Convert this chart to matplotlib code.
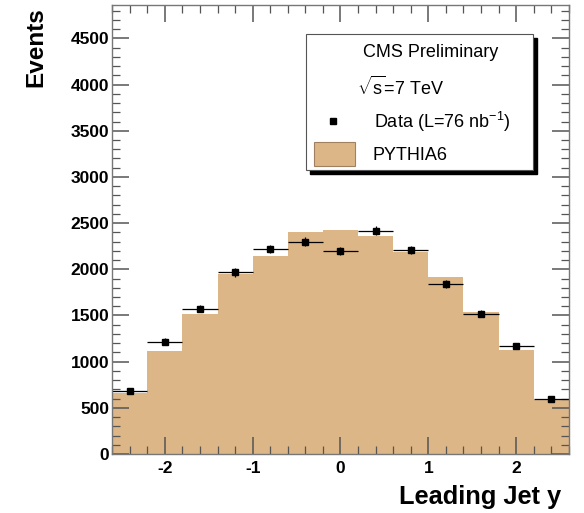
import numpy as np
import matplotlib
matplotlib.use('Agg')
import matplotlib.pyplot as plt
from matplotlib.patches import Rectangle
from matplotlib.ticker import MultipleLocator

plt.rcParams['font.family'] = ['Liberation Sans', 'DejaVu Sans']
plt.rcParams['mathtext.fontset'] = 'custom'
plt.rcParams['mathtext.rm'] = 'Liberation Sans'
plt.rcParams['mathtext.it'] = 'Liberation Sans'
plt.rcParams['axes.unicode_minus'] = False

# binning in leading jet rapidity
bin_edges = [-2.6, -2.2, -1.8, -1.4, -1.0, -0.6, -0.2, 0.2, 0.6, 1.0, 1.4, 1.8, 2.2, 2.6]
# PYTHIA6 prediction per bin
mc_counts = [657, 1115, 1515, 1945, 2140, 2400, 2424, 2363, 2183, 1919, 1540, 1125, 585]
# measured data per bin
data_counts = [682, 1216, 1573, 1966, 2218, 2298, 2197, 2417, 2208, 1840, 1519, 1169, 595]

fill_col = '#dcb687'

fig = plt.figure(figsize=(5.84, 5.13), dpi=100)
ax = fig.add_axes([0.192, 0.115, 0.782, 0.875])

edges = np.array(bin_edges)
centers = 0.5 * (edges[:-1] + edges[1:])
halfw = 0.5 * np.diff(edges)

ax.stairs(mc_counts, edges, fill=True, color=fill_col, lw=0)
ax.errorbar(centers, data_counts, xerr=halfw, yerr=np.sqrt(data_counts),
            fmt='s', color='black', ms=5, elinewidth=0.9, capsize=0)

ax.set_xlim(-2.6, 2.6)
ax.set_ylim(0, 4860)

ax.xaxis.set_major_locator(MultipleLocator(1))
ax.xaxis.set_minor_locator(MultipleLocator(0.2))
ax.yaxis.set_major_locator(MultipleLocator(500))
ax.yaxis.set_minor_locator(MultipleLocator(100))
ax.tick_params(which='both', direction='in', top=True, right=True, color='#555555')
ax.tick_params(which='major', length=12, width=1.1, labelsize=12.5)
ax.tick_params(axis='y', which='major', pad=2)
ax.tick_params(axis='x', which='major', pad=5)
ax.tick_params(which='minor', length=6, width=0.9)
for lab in ax.get_xticklabels() + ax.get_yticklabels():
    lab.set_fontweight('bold')
for sp in ax.spines.values():
    sp.set_color('#777777')
    sp.set_linewidth(1.0)

# baseline extending across the pad
ax.plot([-0.195, 1.03], [0, 0], transform=ax.get_xaxis_transform(), color='#e6cdb0',
        lw=1.2, clip_on=False, zorder=0)

fig.text(0.062, 0.985, 'Events', rotation=90, ha='center', va='top',
         fontsize=17.5, fontweight='bold')
fig.text(0.96, 0.018, 'Leading Jet y', ha='right', va='baseline',
         fontsize=18.3, fontweight='bold')

# legend box with shadow
bx0, by0, bw, bh = 0.424, 0.633, 0.497, 0.302
ax.add_patch(Rectangle((bx0 + 0.009, by0 - 0.009), bw, bh, transform=ax.transAxes,
                       facecolor='black', edgecolor='black', zorder=4))
ax.add_patch(Rectangle((bx0, by0), bw, bh, transform=ax.transAxes,
                       facecolor='white', edgecolor='#555555', lw=0.8, zorder=5))
fs = 13
ax.text(0.549, 0.895, 'CMS Preliminary', transform=ax.transAxes, fontsize=fs,
        va='center', zorder=6)
ax.text(0.536, 0.817, r'$\sqrt{s}$=7 TeV', transform=ax.transAxes, fontsize=fs,
        va='center', zorder=6)
ax.plot([0.484], [0.742], 's', color='black', ms=4, transform=ax.transAxes, zorder=6)
ax.text(0.573, 0.739, r'Data (L=76 nb$^{-1}$)', transform=ax.transAxes, fontsize=fs,
        va='center', zorder=6)
ax.add_patch(Rectangle((0.442, 0.641), 0.09, 0.054, transform=ax.transAxes,
                       facecolor=fill_col, edgecolor='#a08060', lw=0.8, zorder=6))
ax.text(0.571, 0.666, 'PYTHIA6', transform=ax.transAxes, fontsize=fs,
        va='center', zorder=6)

fig.savefig('out.png', dpi=100)
